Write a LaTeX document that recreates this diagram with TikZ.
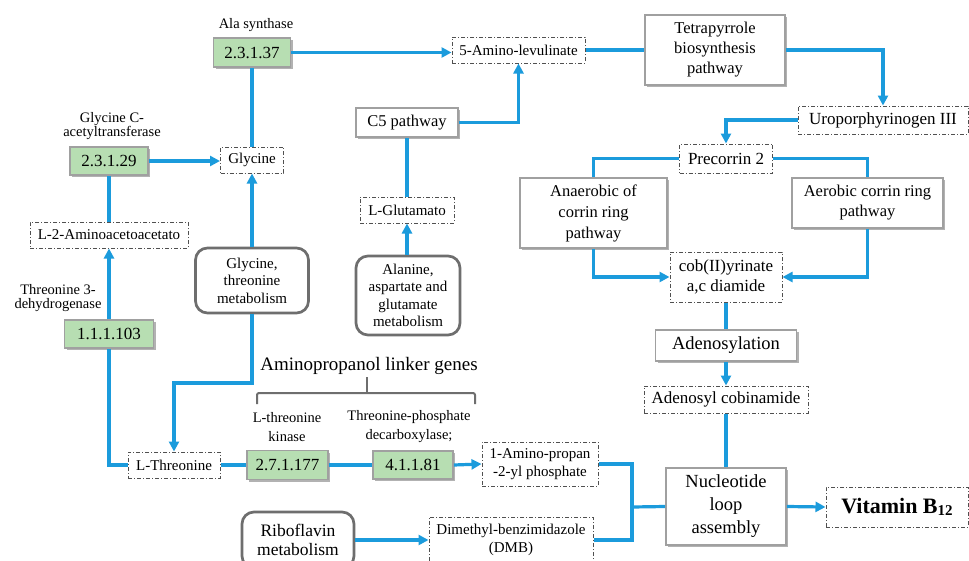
\documentclass[tikz,border=0pt]{standalone}
\usepackage{fontspec}
\setmainfont{Liberation Serif}
\usetikzlibrary{arrows.meta,shadows}
\definecolor{flow}{RGB}{27,155,220}
\definecolor{ecfill}{RGB}{183,222,178}
\definecolor{boxline}{RGB}{160,160,160}
\definecolor{dashline}{RGB}{80,80,80}
\definecolor{roundline}{RGB}{110,110,110}
\tikzset{
  shd/.style={drop shadow={shadow xshift=2pt,shadow yshift=-2pt,fill=black,opacity=0.3}},
  ecbox/.style={draw=boxline,line width=1.8pt,fill=ecfill,shd,inner sep=0pt,font=\fontsize{17}{19}\selectfont},
  graybox/.style={draw=boxline,line width=1.9pt,fill=white,shd,align=center,inner sep=0pt,font=\fontsize{16.5}{20}\selectfont},
  dashbox/.style={draw=dashline,line width=1pt,dash pattern=on 4pt off 2pt on 1pt off 2pt,fill=white,align=center,inner sep=0pt,font=\fontsize{15}{18}\selectfont},
  roundbox/.style={draw=roundline,line width=2.7pt,rounded corners=12pt,fill=white,align=center,inner sep=0pt,font=\fontsize{15}{17.5}\selectfont},
  lbl/.style={align=center,inner sep=0pt,font=\fontsize{14.5}{14}\selectfont},
  lblwide/.style={align=center,inner sep=0pt,font=\fontsize{14.5}{18.5}\selectfont},
  flowline/.style={draw=flow,line width=3.2pt},
  flowarrow/.style={flowline,-{Triangle[length=10pt,width=10pt]}},
  bracketline/.style={draw=roundline,line width=2pt,rounded corners=2pt},
}
\begin{document}
\begin{tikzpicture}[x=1pt,y=-1pt]
\clip (0,0) rectangle (969,560);
\fill[white] (0,0) rectangle (969,560);

% labels
\node[lbl] (lala) at (256,25) {Ala synthase};
\node[lbl] (lgca) at (112,126) {Glycine C-\\acetyltransferase};
\node[lbl] (ltdh) at (58,298) {Threonine 3-\\dehydrogenase};
\node[lblwide] (ltk) at (287,427) {L-threonine\\kinase};
\node[lblwide] (ltpd) at (409,426.5) {Threonine-phosphate\\decarboxylase;};
\node[inner sep=0pt,font=\fontsize{19}{21}\selectfont] (title) at (369,366) {Aminopropanol linker genes};
\draw[bracketline] (257,404) -- (257,393) -- (475,393) -- (475,404);
\draw[bracketline] (367,393) -- (367,377);

% green EC boxes
\node[ecbox,minimum width=77pt,minimum height=29pt] (ec23137) at (252,52.5) {2.3.1.37};
\node[ecbox,minimum width=78pt,minimum height=28pt] (ec23129) at (109,161) {2.3.1.29};
\node[ecbox,minimum width=89pt,minimum height=28pt] (ec111103) at (109,334) {1.1.1.103};
\node[ecbox,minimum width=81pt,minimum height=29pt] (ec271177) at (287.5,465) {2.7.1.177};
\node[ecbox,minimum width=80pt,minimum height=28pt] (ec41181) at (413,465) {4.1.1.81};

% dash-dot compound boxes
\node[dashbox,minimum width=63pt,minimum height=26pt] (gly) at (252,160) {Glycine};
\node[dashbox,minimum width=158pt,minimum height=26pt] (l2a) at (109,235) {L-2-Aminoacetoacetato};
\node[dashbox,minimum width=92pt,minimum height=26pt] (lthr) at (174,465) {L-Threonine};
\node[dashbox,minimum width=116pt,minimum height=44pt] (amp) at (540,464) {1-Amino-propan\\-2-yl phosphate};
\node[dashbox,minimum width=164pt,minimum height=46pt] (dmb) at (511,540) {Dimethyl-benzimidazole\\(DMB)};
\node[dashbox,minimum width=133pt,minimum height=26pt] (ala5) at (518.5,50) {5-Amino-levulinate};
\node[dashbox,minimum width=94pt,minimum height=26pt] (glut) at (407,210) {L-Glutamato};
\node[dashbox,minimum width=170pt,minimum height=28pt,font=\fontsize{17}{20}\selectfont] (uro) at (883,120) {Uroporphyrinogen III};
\node[dashbox,minimum width=93pt,minimum height=29pt,font=\fontsize{17}{20}\selectfont] (pre) at (726,158.5) {Precorrin 2};
\node[dashbox,minimum width=112pt,minimum height=50pt,font=\fontsize{17}{20}\selectfont] (cob) at (726,277) {cob(II)yrinate\\a,c diamide};
\node[dashbox,minimum width=164pt,minimum height=27pt,font=\fontsize{17}{20}\selectfont] (adcob) at (726,399.5) {Adenosyl cobinamide};
\node[dashbox,minimum width=142pt,minimum height=40pt,font=\fontsize{22}{24}\selectfont\bfseries] (vit) at (897,507) {Vitamin B\raisebox{-2pt}{\fontsize{15}{15}\selectfont 12}};

% gray process boxes
\node[graybox,minimum width=140pt,minimum height=70pt] (tetra) at (715,50) {Tetrapyrrole\\biosynthesis\\pathway};
\node[graybox,minimum width=102pt,minimum height=29pt] (c5) at (407,122.5) {C5 pathway};
\node[graybox,minimum width=147pt,minimum height=70pt,font=\fontsize{16.5}{21}\selectfont] (anaer) at (593.5,213) {Anaerobic of\\corrin ring\\pathway};
\node[graybox,minimum width=151pt,minimum height=50pt] (aer) at (867.5,203) {Aerobic corrin ring\\pathway};
\node[graybox,minimum width=141pt,minimum height=31pt,font=\fontsize{18.5}{22}\selectfont] (adeno) at (726,345.5) {Adenosylation};
\node[graybox,minimum width=120pt,minimum height=77pt,font=\fontsize{18.5}{23}\selectfont] (nuc) at (726,506.5) {Nucleotide\\loop\\assembly};

% rounded metabolism boxes
\node[roundbox,minimum width=113pt,minimum height=65pt] (glythr) at (252,280.5) {Glycine,\\threonine\\metabolism};
\node[roundbox,minimum width=104pt,minimum height=79pt] (alan) at (408,295.5) {Alanine,\\aspartate and\\glutamate\\metabolism};
\node[roundbox,minimum width=112pt,minimum height=56pt,font=\fontsize{17.5}{19.5}\selectfont] (ribo) at (298,540) {Riboflavin\\metabolism};

% helper coordinates
\coordinate (gtbend) at (252,383);
\coordinate (jx) at (632,507);

% connectors
\draw[flowarrow] (ec23137.east) -- (ec23137.east -| ala5.west);
\draw[flowline] (ala5.east) -- (tetra.west);
\draw[flowarrow] (tetra.east) -| (uro.north);
\draw[flowarrow] (uro.west) -| (pre.north);
\draw[flowline] (pre.west) -| (anaer.north);
\draw[flowline] (pre.east) -| (aer.north);
\draw[flowarrow] (anaer.south) |- (cob.west);
\draw[flowarrow] (aer.south) |- (cob.east);
\draw[flowline] (cob.south) -- (adeno.north);
\draw[flowarrow] (adeno.south) -- (adcob.north);
\draw[flowline] (adcob.south) -- (nuc.north);
\draw[flowarrow] (nuc.east) -- (vit.west);
\draw[flowarrow] (c5.east) -| (ala5.south);
\draw[flowline] (glut.north) -- (c5.south);
\draw[flowarrow] (alan.north -| glut.south) -- (glut.south);
\draw[flowline] (gly.north) -- (ec23137.south);
\draw[flowarrow] (ec23129.east) -- (ec23129.east -| gly.west);
\draw[flowline] (l2a.north) -- (ec23129.south);
\draw[flowarrow] (ec111103.north) -- (l2a.south);
\draw[flowline] (lthr.west) -| (ec111103.south);
\draw[flowarrow] (glythr.north) -- (gly.south);
\draw[flowarrow] (glythr.south) -- (gtbend) -| (lthr.north);
\draw[flowline] (lthr.east) -- (ec271177.west);
\draw[flowline] (ec271177.east) -- (ec41181.west);
\draw[flowarrow] (ec41181.east) -- (amp.west);
\draw[flowline] (amp.east) -| (jx) |- (dmb.east);
\draw[flowline] (jx) -- (nuc.west);
\draw[flowarrow] (ribo.east) -- (dmb.west);
\end{tikzpicture}
\end{document}
